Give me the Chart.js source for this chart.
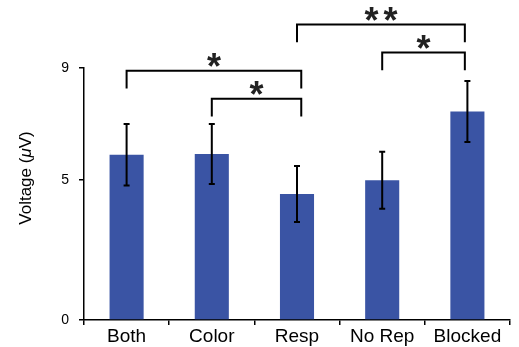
<!DOCTYPE html>
<html>
<head>
<meta charset="utf-8">
<script src="https://cdn.jsdelivr.net/npm/chart.js@4.4.0/dist/chart.umd.js"></script>
<style>
  html, body { margin: 0; padding: 0; background: #fff; }
  #wrap { width: 519px; height: 347px; position: relative; }
</style>
</head>
<body>
<div id="wrap"><canvas id="c"></canvas></div>
<script>
// data
const categories = ['Both', 'Color', 'Resp', 'No Rep', 'Blocked'];
const voltage = [5.9, 5.93, 4.5, 4.99, 7.45];
const errorBar = [1.1, 1.07, 1.0, 1.02, 1.09];
const yTicks = [0, 5, 9];

// significance brackets: category positions, height in µV, label
const bracketFrom = [0, 1, 2, 3];
const bracketTo = [2.05, 2.05, 3.97, 3.97];
const bracketLevel = [8.9, 7.9, 10.55, 9.55];
const bracketLabel = ['*', '*', '**', '*'];
const bracketDrop = 0.63;

const FONT = '"Liberation Sans", Arial, Helvetica, sans-serif';

const errorBars = {
  id: 'errorBars',
  afterDatasetsDraw(chart) {
    const { ctx, scales: { x, y } } = chart;
    ctx.save();
    ctx.strokeStyle = '#000';
    ctx.lineWidth = 2;
    voltage.forEach((v, i) => {
      const px = x.getPixelForValue(i);
      const top = y.getPixelForValue(v + errorBar[i]);
      const bot = y.getPixelForValue(v - errorBar[i]);
      ctx.beginPath();
      ctx.moveTo(px, top); ctx.lineTo(px, bot);
      ctx.moveTo(px - 3, top); ctx.lineTo(px + 3, top);
      ctx.moveTo(px - 3, bot); ctx.lineTo(px + 3, bot);
      ctx.stroke();
    });
    ctx.restore();
  }
};

const brackets = {
  id: 'brackets',
  afterDraw(chart) {
    const { ctx, scales: { x, y } } = chart;
    ctx.save();
    ctx.strokeStyle = '#000';
    ctx.fillStyle = '#222';
    ctx.lineWidth = 2;
    ctx.font = 'bold 36px ' + FONT;
    ctx.textAlign = 'center';
    ctx.textBaseline = 'alphabetic';
    bracketFrom.forEach((f, i) => {
      const x1 = x.getPixelForValue(f);
      const x2 = x.getPixelForValue(bracketTo[i]);
      const yy = y.getPixelForValue(bracketLevel[i]);
      const yd = y.getPixelForValue(bracketLevel[i] - bracketDrop);
      ctx.beginPath();
      ctx.moveTo(x1, yd); ctx.lineTo(x1, yy);
      ctx.lineTo(x2, yy); ctx.lineTo(x2, yd);
      ctx.stroke();
      // stars drawn one by one, a little apart
      const n = bracketLabel[i].length;
      const mid = (x1 + x2) / 2;
      for (let k = 0; k < n; k++) {
        ctx.fillText('*', mid + (k - (n - 1) / 2) * 19, yy + 8);
      }
    });
    ctx.restore();
  }
};

const yTitle = {
  id: 'yTitle',
  afterDraw(chart) {
    const { ctx } = chart;
    const parts = [['Voltage (', ''], ['\u03bc', 'italic '], ['V)', '']];
    ctx.save();
    ctx.translate(26, 178);
    ctx.rotate(-Math.PI / 2);
    ctx.fillStyle = '#000';
    ctx.textBaseline = 'middle';
    let total = 0;
    parts.forEach(p => { ctx.font = p[1] + '17px ' + FONT; total += ctx.measureText(p[0]).width; });
    let cx = -total / 2;
    parts.forEach(p => {
      ctx.font = p[1] + '17px ' + FONT;
      ctx.textAlign = 'left';
      ctx.fillText(p[0], cx, 0);
      cx += ctx.measureText(p[0]).width;
    });
    ctx.restore();
  }
};

new Chart(document.getElementById('c'), {
  type: 'bar',
  data: {
    labels: categories,
    datasets: [{
      data: voltage,
      backgroundColor: '#3a54a4',
      borderWidth: 0,
      barPercentage: 0.4,
      categoryPercentage: 1.0
    }]
  },
  options: {
    responsive: true,
    maintainAspectRatio: false,
    animation: false,
    layout: { padding: { top: 68, right: 9, left: 0, bottom: 0 } },
    plugins: { legend: { display: false }, tooltip: { enabled: false } },
    scales: {
      x: {
        afterFit: s => { s.height = 27; },
        grid: { display: true, drawOnChartArea: false, drawTicks: true, tickLength: 5, color: '#000', lineWidth: 1.5, offset: true },
        border: { display: true, color: '#000', width: 1.5 },
        ticks: { color: '#000', font: { family: FONT, size: 19 }, padding: 0, maxRotation: 0 }
      },
      y: {
        min: 0, max: 9,
        afterFit: s => { s.width = 84; },
        afterBuildTicks: s => { s.ticks = yTicks.map(v => ({ value: v })); },
        grid: { display: true, drawOnChartArea: false, drawTicks: true, tickLength: 5, color: '#000', lineWidth: 1.5 },
        border: { display: true, color: '#000', width: 1.5 },
        ticks: { color: '#000', font: { family: FONT, size: 14 }, padding: 10 }
      }
    }
  },
  plugins: [errorBars, brackets, yTitle]
});
</script>
</body>
</html>
